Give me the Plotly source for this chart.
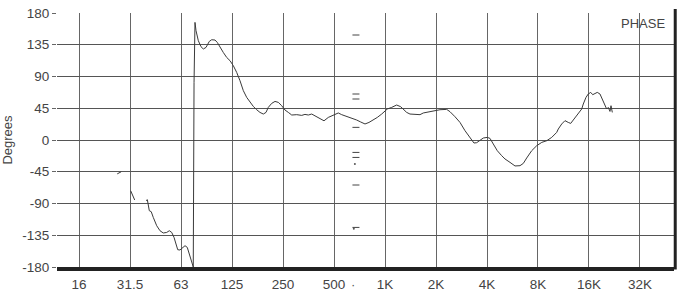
import plotly.graph_objects as go

# ---- data (frequency in Hz, phase in degrees) ----
seg1_freq = [26.9, 28.4]
seg1_phase = [-48, -45]

seg2_freq = [32.3, 34.1]
seg2_phase = [-72, -85]

seg3_freq = [39.8, 40.5, 41.6, 42.7, 43.9, 46.0, 48.1, 50.3, 52.7, 54.6, 56.4, 58.2,
             59.8, 61.2, 63.1, 65.5, 67.6, 69.7, 71.6, 74.0, 75.6,
             76.4, 77.4, 78.5, 81.0, 84.0, 86.7, 89.9, 94.0, 97.1, 101.6, 104.8,
             108.8, 113.7, 119.1, 124.6, 130.3, 136.4, 142.7, 149.3, 156.3, 163.5,
             171.0, 179.0, 187.2, 195.9, 203.2, 209.6, 219.5, 229.6, 240.2, 251.5,
             263.0, 275.2, 288.2, 308.5, 330.2, 345.1, 361.1, 378.2, 395.4, 423.2,
             446.9, 473.8, 507.0, 542.7, 568.5, 608.5, 651.2, 697.0, 736.2, 780.3,
             823.7, 873.6, 922.2, 978.9, 1024, 1056, 1121, 1200, 1267, 1313, 1375,
             1438, 1539, 1648, 1723, 1887, 2020, 2162, 2368, 2478, 2652, 2838, 3038,
             3251, 3432, 3560, 3725, 3895, 4113, 4266, 4463, 4712, 5001, 5231, 5600,
             5993, 6414, 6709, 7025, 7518, 8049, 8617, 9223, 9872, 10565, 10795,
             11309, 11822, 12365, 12775, 13234, 13864, 14363, 14838, 15162, 15728,
             16224, 16768, 17232, 17776, 18336, 19024, 19632, 20368, 20832, 21296,
             21792, 22096, 22496]
seg3_phase = [-86, -84.6, -100.2, -101.6, -109.7, -121.5, -128.6, -131.8, -131, -128.6,
              -131, -138, -147.4, -155.5, -155.9, -152.2, -149.8, -152.2, -161.5, -171,
              -180,
              81.2, 166.7, 154.9, 140.7, 132.2, 129, 131.2, 139.7, 142.1, 141.7, 138.3,
              131.2, 124.1, 117, 112.4, 105.3, 95.8, 84, 69.9, 60.4, 53.3,
              47.6, 42.9, 39.1, 36.8, 39.1, 46.2, 51.9, 54.7, 53.3, 48.6,
              42.5, 39.1, 35.4, 35.9, 34.9, 36.3, 35.4, 36.8, 34.4, 30.6,
              27.2, 32, 35.4, 38.3, 35.9, 33.4, 31.2, 28.3, 25.5, 22.7,
              24.9, 28.3, 32, 36.8, 40.5, 43.9, 46.2, 49.6, 47.2, 43.9, 39.1,
              36.8, 36.8, 35.9, 38.3, 40.1, 41.5, 42.9, 43.4, 40.1, 33, 24.9, 13.2,
              2.8, -4.3, -3.8, 0, 2.8, 3.7, 2.3, -5.7, -15.2, -22.2, -26.9, -31.7,
              -36.8, -36.4, -33.2, -25.5, -15.2, -8.1, -3.4, -1, 3.7, 10.8, 15.6,
              22.7, 27.4, 24.9, 23.5, 28.3, 34.4, 39.1, 43.9, 51, 60.4,
              65.2, 67.5, 64.2, 66, 67.5, 65.2, 58.1, 48.6, 43.9, 46.2,
              40.5, 48.6, 39.1]

# small stray dash marks near 690 Hz
dash_freq = [690, 690, 690, 690, 690, 690, 690, 690]
dash_phase = [148.8, 65.2, 58.1, 17.9, -17.6, -24.7, -63.8, -123.9]
dot_freq = [680, 670]
dot_phase = [-34, -125.7]

x_tickvals = [16, 32, 64, 128, 256, 512, 1024, 2048, 4096, 8192, 16384, 32768]
x_ticktext = ["16", "31.5", "63", "125", "250", "500", "1K", "2K", "4K", "8K", "16K", "32K"]
y_tickvals = [180, 135, 90, 45, 0, -45, -90, -135, -180]
y_ticktext = ["180", "135", "90", "45", "0", "-45", "-90", "-135", "-180"]

freq_all = seg1_freq + [None] + seg2_freq + [None] + seg3_freq
phase_all = seg1_phase + [None] + seg2_phase + [None] + seg3_phase

FONT = "Liberation Sans"

fig = go.Figure()
fig.add_trace(go.Scatter(x=freq_all, y=phase_all, mode="lines",
                         line=dict(color="#3a3a3a", width=1), connectgaps=False,
                         hoverinfo="skip", showlegend=False))
fig.add_trace(go.Scatter(x=dash_freq, y=dash_phase, mode="markers",
                         marker=dict(symbol="line-ew", size=5,
                                     line=dict(color="#444444", width=1)),
                         hoverinfo="skip", showlegend=False))
fig.add_trace(go.Scatter(x=dot_freq, y=dot_phase, mode="markers",
                         marker=dict(symbol="circle", size=2, color="#555555"),
                         hoverinfo="skip", showlegend=False))

fig.update_layout(
    width=689, height=302,
    margin=dict(l=57, r=15, t=13, b=35),
    paper_bgcolor="white", plot_bgcolor="white",
    font=dict(family=FONT, size=13, color="#444444"),
    xaxis=dict(type="log", range=[1.0742, 4.7162], automargin=False,
               tickvals=x_tickvals, ticktext=x_ticktext,
               showgrid=True, gridcolor="#666666", gridwidth=1,
               showline=True, linecolor="#222222", linewidth=4,
               ticks="", zeroline=False, ticklabelstandoff=2,
               tickfont=dict(family=FONT, size=13.5, color="#444444")),
    yaxis=dict(range=[-180, 180], tickvals=y_tickvals, ticktext=y_ticktext,
               automargin=False,
               showgrid=True, gridcolor="#555555", gridwidth=1,
               showline=False, zeroline=False,
               ticks="outside", ticklen=4, tickcolor="#666666",
               tickfont=dict(family=FONT, size=13.5, color="#444444"),
               title=dict(text="Degrees", font=dict(family=FONT, size=13, color="#444444"),
                          standoff=8)),
    shapes=[dict(type="line", xref="paper", yref="paper", x0=1.002, x1=1.002,
                 y0=-0.01, y1=1.016, line=dict(color="#222222", width=3))],
    annotations=[
        dict(text="PHASE", xref="paper", yref="paper", x=0.9887, y=0.957,
             xanchor="right", yanchor="middle", showarrow=False,
             font=dict(family=FONT, size=13, color="#444444")),
        dict(text="·", xref="x", yref="paper", x=2.82, y=-0.07,
             xanchor="center", yanchor="middle", showarrow=False,
             font=dict(family=FONT, size=13, color="#555555")),
    ],
)

fig.write_html("out.html")
